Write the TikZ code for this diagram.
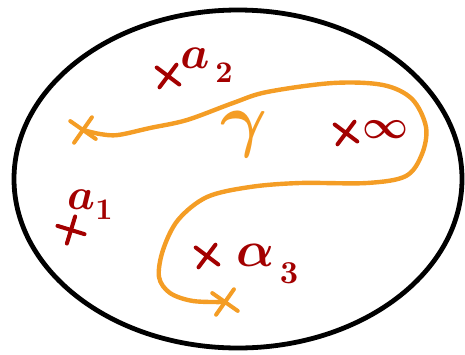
\documentclass[tikz,border=0pt]{standalone}
\usepackage{graphicx}
\usetikzlibrary{shapes.misc}
\definecolor{ptred}{HTML}{A30000}
\definecolor{curveor}{HTML}{F49D25}
\newcommand{\bigsym}[2]{\scalebox{#1}{\boldmath$#2$}}
\begin{document}
\begin{tikzpicture}[x=1pt,y=-1pt,
  ptcross/.style={cross out, draw=ptred, line width=4pt, line cap=round, minimum size=16pt, inner sep=0pt, rotate=8},
  endcross/.style={cross out, draw=curveor, line width=4pt, line cap=round, minimum size=18pt, inner sep=0pt, rotate=10},
  ptlabel/.style={text=ptred, inner sep=0pt},
  curve/.style={draw=curveor, line width=4.4pt, line cap=round, line join=round}]
\useasboundingbox (0,0) rectangle (465,354);
% disc
\draw[line width=4.8pt] (238,179) ellipse [x radius=224, y radius=169];
% path gamma
\coordinate (s) at (83,130);
\coordinate (e) at (225,302);
\draw[curve] plot[smooth, tension=0.55] coordinates {(s) (100,134) (118,135) (150,128) (187,120) (233,103) (267,92) (333,83) (383,85) (412,99) (426,127) (422,154) (406,176) (367,183) (300,183) (250,187) (207,197) (178,220) (163,250) (159,277) (170,293) (193,301) (e)};
\node[endcross] (sx) at (s) {};
\node[endcross] (ex) at (e) {};
\node[text=curveor, inner sep=0pt] (g) at (244,134) {\bigsym{7.2}{\gamma}};
% marked points
\node[ptcross] (c2) at (168,76) {};
\node[ptlabel] (a2) at (195,58) {\bigsym{4.6}{a}};
\node[ptlabel] (n2) at (224,73) {\bigsym{3}{2}};
\node[ptcross, rotate=20] (c1) at (71,230) {};
\node[ptlabel] (a1) at (81,200) {\bigsym{4.4}{a}};
\node[ptlabel] (n1) at (104,210) {\bigsym{3}{1}};
\node[ptcross] (ci) at (346,133) {};
\node[ptlabel] (inf) at (385,130) {\bigsym{4}{\infty}};
\node[ptcross] (c3) at (207,256) {};
\node[ptlabel] (a3) at (256,255) {\bigsym{5}{\alpha}};
\node[ptlabel] (n3) at (289,273) {\bigsym{3.2}{3}};
\end{tikzpicture}
\end{document}
